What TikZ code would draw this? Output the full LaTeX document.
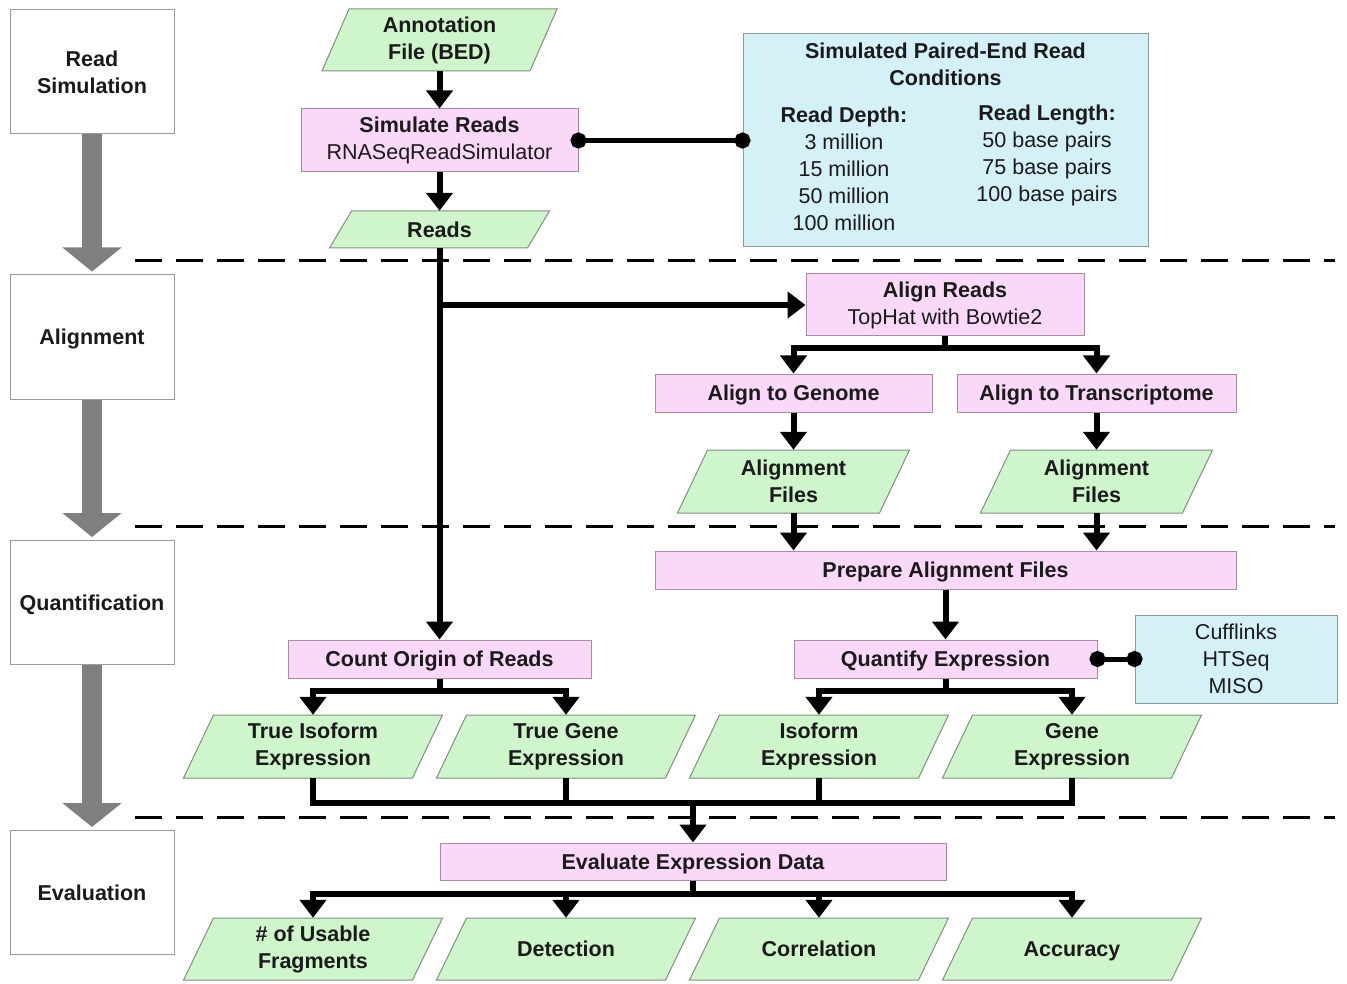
\documentclass[tikz,border=0pt]{standalone}
\usepackage{fontspec}
\setmainfont{Liberation Sans}
\usetikzlibrary{arrows.meta,calc}
\definecolor{pinkfill}{HTML}{FAD8F8}
\definecolor{pinkline}{HTML}{A98BA8}
\definecolor{greenfill}{HTML}{CFF5CB}
\definecolor{greenline}{HTML}{7F907F}
\definecolor{bluefill}{HTML}{D4F1F8}
\definecolor{blueline}{HTML}{8A9A9E}
\definecolor{txt}{HTML}{1A1A1A}
\definecolor{arrowgray}{HTML}{7F7F7F}
\definecolor{stageline}{HTML}{9A9A9A}
\newcommand\fs{\fontsize{21.5}{27}\selectfont}
% #1 extra style, #2 name, #3 cx, #4 cy, #5 width, #6 height, #7 slant, #8 text
\newcommand\pgram[8]{%
  \filldraw[pgramshape] ({#3-#5/2+#7/2},{#4-#6/2}) -- ({#3+#5/2+#7/2},{#4-#6/2})
     -- ({#3+#5/2-#7/2},{#4+#6/2}) -- ({#3-#5/2-#7/2},{#4+#6/2}) -- cycle;
  \node[pgramtext, #1, minimum width=#5pt, minimum height=#6pt] (#2) at (#3,#4) {#8};}
\begin{document}
\begin{tikzpicture}[x=1pt,y=-1pt,
  every node/.style={text=txt, font=\fs, align=center, inner sep=0pt},
  one/.style={text height=19pt, text depth=3.6pt},
  multi/.style={},
  stage/.style={draw=stageline, fill=white, line width=1pt, minimum width=164pt, minimum height=124pt, font=\fs\bfseries},
  proc/.style={draw=pinkline, fill=pinkfill, line width=1pt},
  info/.style={draw=blueline, fill=bluefill, line width=1pt},
  pgramshape/.style={draw=greenline, fill=greenfill, line width=1pt},
  pgramtext/.style={font=\fs\bfseries},
  conn/.style={line width=6pt, black},
  arr/.style={conn, -{Triangle[width=26pt,length=18pt]}},
  dotc/.style={line width=5pt, black, {Circle[length=16pt]}-{Circle[length=16pt]}},
  stagearr/.style={arrowgray, line width=20pt, -{Triangle[width=58pt,length=24pt]}},
  sep/.style={line width=3pt, black, dash pattern=on 27pt off 14pt}
]
\useasboundingbox (0,0) rectangle (1347,984);
\fill[white] (0,0) rectangle (1347,984);

% separators
\draw[sep] (135,261) -- (1335,261);
\draw[sep] (135,526) -- (1335,526);
\draw[sep] (135,817) -- (1335,817);

% stages
\node[stage] (s1) at (92,72) {Read\\Simulation};
\node[stage, one] (s2) at (92,337) {Alignment};
\node[stage, one] (s3) at (92,602.5) {Quantification};
\node[stage, one] (s4) at (92,892.5) {Evaluation};
\draw[stagearr] (s1.south) -- ([yshift=3pt]s2.north);
\draw[stagearr] (s2.south) -- ([yshift=3pt]s3.north);
\draw[stagearr] (s3.south) -- ([yshift=3pt]s4.north);

% read simulation
\pgram{multi}{ann}{439.5}{40}{208}{62}{27}{Annotation\\File (BED)}
\node[proc, minimum width=277pt, minimum height=63pt] (sim) at (439.5,140.5) {\textbf{Simulate Reads}\\RNASeqReadSimulator};
\pgram{one}{reads}{439.5}{229.5}{198}{37}{22}{Reads}
\node[info, minimum width=405pt, minimum height=213pt] (cond) at (945.5,140.5) {};
\node[font=\fs\bfseries] (ctitle) at (945.5,64.5) {Simulated Paired-End Read\\Conditions};
\node (cdepth) at (844,169) {\textbf{Read Depth:}\\3 million\\15 million\\50 million\\100 million};
\node (clen) at (1047,155.5) {\textbf{Read Length:}\\50 base pairs\\75 base pairs\\100 base pairs};
\draw[arr] (ann.south) -- (sim.north);
\draw[arr] (sim.south) -- (reads.north);
\draw[dotc] ([xshift=-8pt]sim.east) -- ([xshift=8pt]cond.west);

% alignment
\node[proc, minimum width=278pt, minimum height=62pt] (ar) at (945,305) {\textbf{Align Reads}\\TopHat with Bowtie2};
\node[proc, one, minimum width=277pt, minimum height=38pt, font=\fs\bfseries] (ag) at (793.5,393) {Align to Genome};
\node[proc, one, minimum width=279pt, minimum height=38pt, font=\fs\bfseries] (at) at (1096.5,393) {Align to Transcriptome};
\pgram{multi}{af1}{793.5}{481.5}{202}{63}{30}{Alignment\\Files}
\pgram{multi}{af2}{1096.5}{481.5}{202}{63}{30}{Alignment\\Files}
\draw[arr] (reads.south |- ar.west) -- (ar.west);
\draw[arr] (ar.south) -- ++(0,12) -| (ag.north);
\draw[arr] (ar.south) -- ++(0,12) -| (at.north);
\draw[arr] (ag.south) -- (af1.north);
\draw[arr] (at.south) -- (af2.north);

% quantification
\node[proc, one, minimum width=581pt, minimum height=38pt, font=\fs\bfseries] (pa) at (945.5,570) {Prepare Alignment Files};
\node[proc, one, minimum width=303pt, minimum height=38pt, font=\fs\bfseries] (co) at (439.5,659) {Count Origin of Reads};
\node[proc, one, minimum width=303pt, minimum height=38pt, font=\fs\bfseries] (qe) at (945.5,659) {Quantify Expression};
\node[info, minimum width=202pt, minimum height=88pt] (tools) at (1236,659) {Cufflinks\\HTSeq\\MISO};
\draw[arr] (af1.south) -- (af1.south |- pa.north);
\draw[arr] (af2.south) -- (af2.south |- pa.north);
\draw[arr] (reads.south) -- (co.north);
\draw[arr] (pa.south) -- (qe.north);
\draw[dotc] ([xshift=-8pt]qe.east) -- ([xshift=8pt]tools.west);

\pgram{multi}{tie}{313}{746.5}{229}{63}{30}{True Isoform\\Expression}
\pgram{multi}{tge}{566}{746.5}{229}{63}{30}{True Gene\\Expression}
\pgram{multi}{ie}{819}{746.5}{229}{63}{30}{Isoform\\Expression}
\pgram{multi}{ge}{1072}{746.5}{229}{63}{30}{Gene\\Expression}
\draw[arr] (co.south) -- ++(0,12) -| (tie.north);
\draw[arr] (co.south) -- ++(0,12) -| (tge.north);
\draw[arr] (qe.south) -- ++(0,12) -| (ie.north);
\draw[arr] (qe.south) -- ++(0,12) -| (ge.north);

% evaluation
\node[proc, one, minimum width=506pt, minimum height=37pt, font=\fs\bfseries] (ee) at (693,861.5) {Evaluate Expression Data};
\coordinate (m) at (693,803);
\draw[conn] (tie.south) |- (m) -| (ge.south);
\draw[conn] (tge.south) -- (tge.south |- m);
\draw[conn] (ie.south) -- (ie.south |- m);
\draw[arr] (m) -- (ee.north);

\pgram{multi}{uf}{313}{949}{229}{62}{30}{\# of Usable\\Fragments}
\pgram{one}{det}{566}{949}{229}{62}{30}{Detection}
\pgram{one}{cor}{819}{949}{229}{62}{30}{Correlation}
\pgram{one}{acc}{1072}{949}{229}{62}{30}{Accuracy}
\draw[arr] (ee.south) -- ++(0,13) -| (uf.north);
\draw[arr] (ee.south) -- ++(0,13) -| (det.north);
\draw[arr] (ee.south) -- ++(0,13) -| (cor.north);
\draw[arr] (ee.south) -- ++(0,13) -| (acc.north);
\end{tikzpicture}
\end{document}
